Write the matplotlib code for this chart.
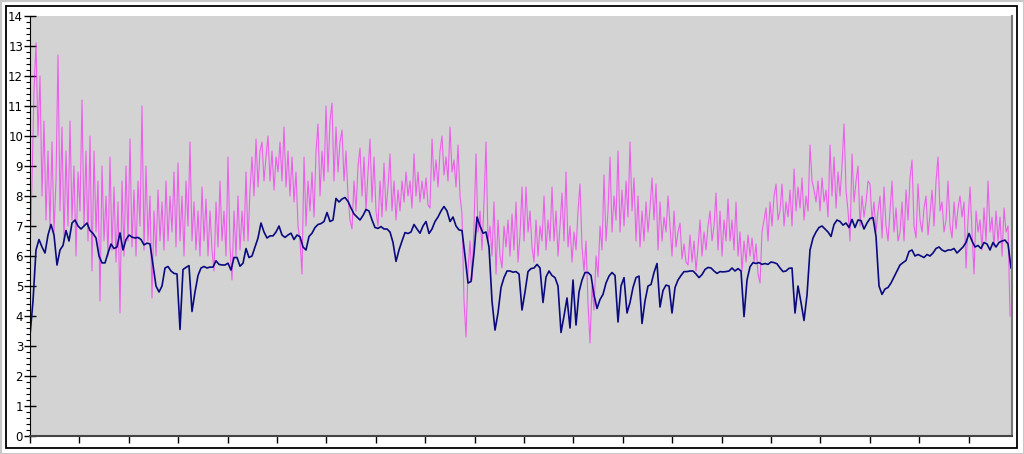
import numpy as np
import matplotlib.pyplot as plt
from matplotlib.patches import Rectangle
from matplotlib.ticker import MultipleLocator, NullFormatter

# navy series, uniform steps across the x range
navy = [
    3.35, 4.5, 6.2, 6.55, 6.3, 6.1, 6.7, 7.05, 6.7, 5.7, 6.2, 6.35, 6.85, 6.5, 7.1, 7.2,
    7.0, 6.9, 7.0, 7.1, 6.85, 6.75, 6.6, 6.0, 5.77, 5.77, 6.1, 6.4, 6.25, 6.3, 6.77, 6.2,
    6.55, 6.7, 6.63, 6.6, 6.62, 6.55, 6.37, 6.43, 6.4, 5.7, 5.0, 4.8, 5.0, 5.6, 5.65, 5.5,
    5.42, 5.4, 3.55, 5.55, 5.62, 5.68, 4.15, 4.8, 5.35, 5.6, 5.65, 5.6, 5.63, 5.63, 5.84, 5.72,
    5.7, 5.7, 5.76, 5.53, 5.95, 5.95, 5.66, 5.76, 6.25, 5.95, 6.0, 6.3, 6.6, 7.1, 6.8, 6.6,
    6.67, 6.67, 6.8, 7.0, 6.7, 6.62, 6.7, 6.76, 6.55, 6.7, 6.64, 6.3, 6.2, 6.65, 6.76, 6.95,
    7.05, 7.08, 7.15, 7.45, 7.15, 7.2, 7.92, 7.8, 7.9, 7.95, 7.82, 7.6, 7.4, 7.3, 7.2, 7.35,
    7.55, 7.5, 7.2, 6.95, 6.92, 6.98, 6.9, 6.9, 6.8, 6.45, 5.82, 6.2, 6.5, 6.78, 6.75, 6.8,
    7.05, 6.9, 6.76, 7.0, 7.15, 6.75, 6.9, 7.15, 7.3, 7.5, 7.65, 7.5, 7.15, 7.3, 7.0, 6.87,
    6.85, 6.0, 5.1, 5.15, 6.1, 7.3, 7.0, 6.76, 6.8, 6.3, 4.5, 3.53, 4.1, 4.95, 5.28, 5.5,
    5.5, 5.46, 5.48, 5.4, 4.2, 4.8, 5.48, 5.58, 5.6, 5.72, 5.6, 4.45, 5.3, 5.5, 5.35, 5.28,
    5.0, 3.45, 4.0, 4.6, 3.6, 5.2, 3.7, 4.8, 5.2, 5.45, 5.45, 5.35, 4.7, 4.25, 4.55, 4.72,
    5.1, 5.33, 5.45, 5.35, 3.8, 5.0, 5.28, 4.1, 4.45, 4.95, 5.28, 5.33, 3.75, 4.5, 5.0, 5.05,
    5.45, 5.75, 4.3, 4.85, 5.03, 5.0, 4.1, 4.95, 5.2, 5.35, 5.48, 5.48, 5.5, 5.5, 5.4, 5.28,
    5.38, 5.55, 5.62, 5.6, 5.5, 5.42, 5.48, 5.47, 5.48, 5.5, 5.6, 5.5, 5.58, 5.5, 3.98, 5.2,
    5.64, 5.78, 5.75, 5.78, 5.72, 5.75, 5.72, 5.8, 5.78, 5.74, 5.6, 5.48, 5.5, 5.59, 5.6, 4.1,
    5.0, 4.45, 3.85, 4.7, 6.2, 6.6, 6.8, 6.95, 7.0, 6.9, 6.8, 6.65, 7.05, 7.2, 7.15, 7.03,
    7.1, 6.95, 7.22, 6.95, 7.2, 7.18, 6.9, 7.1, 7.25, 7.28, 6.65, 5.0, 4.72, 4.9, 4.95, 5.1,
    5.3, 5.5, 5.7, 5.78, 5.85, 6.15, 6.2, 6.0, 6.05, 6.0, 5.95, 6.05, 6.0, 6.1, 6.25, 6.3,
    6.2, 6.15, 6.2, 6.2, 6.25, 6.1, 6.2, 6.3, 6.45, 6.75, 6.5, 6.3, 6.35, 6.25, 6.45, 6.4,
    6.2, 6.45, 6.3, 6.45, 6.5, 6.53, 6.4, 5.6,
]

# magenta series, uniform steps (denser)
magenta = [
    6.0, 8.5, 11.5, 13.1, 10.0, 12.0, 8.0, 10.5, 7.2, 9.5, 7.0, 9.8, 6.8, 8.5, 12.7, 7.5, 10.3, 6.5, 9.5, 7.0,
    10.5, 7.2, 9.0, 6.0, 8.8, 7.5, 11.2, 7.0, 9.5, 6.5, 10.0, 5.5, 9.5, 6.8, 8.5, 4.5, 9.0, 6.5, 8.0, 6.0,
    9.3, 6.2, 8.3, 5.8, 7.8, 4.1, 8.5, 6.0, 9.0, 6.5, 9.9, 6.3, 8.2, 6.0, 8.5, 7.0, 11.0, 6.2, 9.0, 6.5,
    8.0, 4.6, 7.5, 6.0, 8.2, 6.5, 7.8, 6.2, 8.5, 6.5, 8.0, 6.8, 8.8, 6.3, 9.1, 6.5, 8.0, 6.0, 8.5, 7.0,
    9.8, 6.5, 7.8, 6.2, 7.5, 6.0, 8.3, 6.5, 7.9, 6.0, 7.5, 6.2, 5.5, 7.8, 6.3, 8.5, 6.5, 7.5, 6.0, 9.3,
    6.3, 5.2, 7.5, 6.0, 8.0, 6.2, 7.5, 6.5, 8.8, 6.5, 8.2, 9.3, 8.0, 9.9, 8.3, 9.5, 9.8, 8.5, 9.3, 10.0,
    8.5, 9.5, 8.2, 9.3, 8.8, 9.8, 8.5, 10.3, 8.3, 9.5, 8.0, 9.3, 7.8, 8.8, 7.0, 6.5, 5.4, 9.3, 7.0, 8.5,
    7.5, 8.8, 7.3, 9.5, 10.4, 8.0, 9.5, 8.5, 11.0, 8.8, 10.5, 11.1, 8.5, 10.3, 8.8, 9.8, 10.2, 8.5, 9.5, 8.0,
    7.2, 6.9, 8.5, 7.5, 9.0, 9.6, 8.0, 9.3, 7.5, 8.8, 9.9, 7.8, 9.3, 7.5, 7.0, 8.5, 7.3, 9.1, 7.5, 8.3,
    9.4, 7.5, 8.5, 7.2, 8.2, 7.5, 8.5, 7.8, 8.8, 8.0, 8.5, 7.6, 9.4, 8.0, 8.8, 7.8, 8.5, 7.9, 8.6, 7.7,
    7.6, 9.9, 8.5, 9.2, 8.3, 9.5, 10.0, 8.7, 9.3, 8.5, 10.3, 8.8, 9.2, 8.3, 9.7, 8.0, 7.4, 4.5, 3.3, 5.5,
    6.5, 5.2, 7.0, 9.4, 6.8, 7.5, 6.2, 7.8, 9.8, 6.5, 7.0, 6.0, 7.8, 5.4, 7.2, 6.0, 5.6, 7.0, 6.3, 7.2,
    6.0, 7.4, 6.2, 7.8, 5.8, 6.7, 8.3, 6.5, 8.3, 6.8, 7.5, 6.3, 5.8, 7.2, 6.0, 7.0, 6.5, 8.0, 6.2, 7.2,
    6.5, 8.3, 6.5, 7.5, 6.0, 7.0, 8.1, 6.5, 8.8, 6.3, 7.0, 5.8, 6.8, 6.2, 7.5, 8.4, 6.3, 5.5, 6.5, 4.4,
    3.1, 5.0, 4.2, 6.0, 5.3, 7.0, 6.2, 8.7, 6.5, 7.5, 9.3, 6.8, 8.0, 7.2, 9.5, 6.8, 8.2, 7.0, 8.5, 7.3,
    9.8, 7.5, 8.6, 6.5, 8.0, 6.3, 7.5, 6.5, 7.8, 6.8, 7.6, 8.6, 7.2, 8.4, 6.2, 7.8, 6.5, 7.3, 6.8, 8.0,
    7.0, 6.0, 7.5, 6.3, 6.8, 7.1, 5.9, 6.4, 5.8, 5.7, 6.7, 5.8, 6.5, 5.5, 6.3, 7.2, 6.0, 6.8, 6.2, 7.0,
    7.5, 6.5, 7.0, 8.1, 6.2, 7.5, 6.0, 7.2, 6.5, 7.9, 6.5, 7.2, 6.2, 7.8, 6.0, 6.8, 5.5, 6.5, 5.8, 6.7,
    6.0, 6.6, 5.8, 6.4, 5.4, 5.1, 6.8, 7.2, 7.6, 6.5, 7.8, 7.0, 8.0, 8.4, 7.2, 7.5, 8.4, 7.0, 7.8, 7.3,
    8.2, 7.0, 8.9, 7.5, 8.3, 7.6, 8.6, 7.2, 8.0, 7.5, 9.7, 8.5, 8.2, 7.8, 8.5, 7.5, 8.6, 7.8, 8.2, 7.3,
    9.7, 8.0, 9.3, 7.6, 8.8, 8.0, 9.0, 10.4, 8.2, 7.5, 6.5, 9.4, 7.8, 8.5, 9.0, 7.0, 8.0, 7.3, 7.8, 8.5,
    8.4, 7.2, 7.8, 6.8, 7.5, 8.0, 6.6, 8.3, 7.0, 6.5, 7.5, 8.5, 6.8, 7.6, 6.5, 6.8, 7.8, 6.5, 8.2, 7.2,
    8.6, 9.2, 7.0, 6.6, 8.4, 7.2, 6.8, 7.6, 8.0, 6.7, 7.4, 8.2, 7.0, 8.5, 9.3, 7.5, 7.8, 6.8, 7.2, 8.5,
    7.0, 6.6, 7.8, 6.9, 7.6, 8.0, 7.3, 7.8, 5.6, 7.2, 8.3, 6.8, 5.4, 7.5, 6.8, 7.2, 6.2, 7.6, 6.5, 8.5,
    6.8, 7.3, 6.3, 7.5, 6.5, 7.3, 6.0, 7.6, 6.8, 7.0, 4.0,
]

xmax = 994
x_navy = np.linspace(0, 993, len(navy))
x_mag = np.linspace(0, 992, len(magenta))

fig = plt.figure(figsize=(10.24, 4.54), dpi=100)
ax = fig.add_axes([30 / 1024, 18 / 454, 982 / 1024, 420 / 454])
ax.set_facecolor('#d3d3d3')

ax.plot(x_mag, magenta, color='#ff00ff', lw=0.8, alpha=0.55)
ax.plot(x_navy, navy, color='#0a0a80', lw=1.2)

ax.set_xlim(0, xmax)
ax.set_ylim(0, 14)

ax.yaxis.set_major_locator(MultipleLocator(1))
ax.yaxis.set_minor_locator(MultipleLocator(0.2))
ax.xaxis.set_major_locator(MultipleLocator(50))
ax.xaxis.set_major_formatter(NullFormatter())
ax.tick_params(axis='y', which='major', direction='inout', length=8, width=1, labelsize=8.5, pad=1)
ax.tick_params(axis='y', which='minor', direction='out', length=3, width=0.8)
ax.tick_params(axis='x', which='major', direction='out', length=5, width=1)

ax.spines['top'].set_visible(False)
ax.spines['left'].set_color('black')
ax.spines['bottom'].set_color('#444444')
ax.spines['bottom'].set_linewidth(1.5)
ax.spines['right'].set_color('#777777')
ax.spines['right'].set_linewidth(1.5)

# frames around the figure
fig.patches.append(Rectangle((0.5 / 1024, 0.5 / 454), 1023 / 1024, 453 / 454, transform=fig.transFigure,
                             fill=False, edgecolor='#c8c8c8', lw=1.5))
fig.patches.append(Rectangle((6 / 1024, 6 / 454), 1011 / 1024, 442 / 454, transform=fig.transFigure,
                             fill=False, edgecolor='black', lw=1.3))

plt.savefig('out.png', dpi=100)
